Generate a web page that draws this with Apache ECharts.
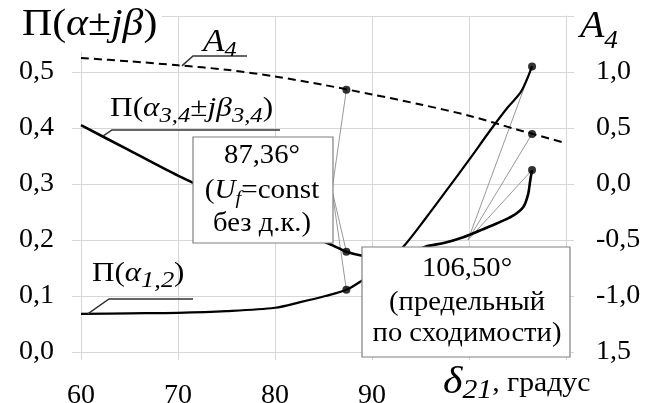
<!DOCTYPE html>
<html><head><meta charset="utf-8">
<script src="https://cdn.jsdelivr.net/npm/echarts@6/dist/echarts.min.js"></script>
<style>html,body{margin:0;padding:0;background:#fff}#c{width:650px;height:403px}</style>
</head><body><div id="c"></div>
<script>
// ---------- data ----------
const xTicks = [60, 70, 80, 90, 100, 110];
const leftTicks = [0, 0.1, 0.2, 0.3, 0.4, 0.5, 0.6];
const rightTicks = [-1.5, -1.0, -0.5, 0.0, 0.5, 1.0, 1.5];

const pi12X = [60, 65, 70, 75, 80, 82.6, 85.2, 87.36, 89, 91, 93.2, 95.5, 97.7, 100, 102.2, 104, 105.3, 106, 106.5];
const pi12Y = [0.068, 0.069, 0.070, 0.073, 0.079, 0.089, 0.100, 0.111, 0.128, 0.152, 0.1875, 0.238, 0.289, 0.343, 0.396, 0.437, 0.463, 0.488, 0.51];

const pi34X = [60, 65, 70, 75, 80, 84, 86, 87.36, 89, 91, 93, 95.5, 97.5, 99.4, 101, 102.9, 104.5, 105.6, 106.1, 106.3, 106.5];
const pi34Y = [0.405, 0.36, 0.315, 0.275, 0.24, 0.205, 0.19, 0.179, 0.172, 0.168, 0.170, 0.188, 0.195, 0.205, 0.216, 0.23, 0.243, 0.259, 0.282, 0.305, 0.325];

const a4X = [60, 65, 70, 75, 80, 85, 90, 95, 100, 105, 110];
const a4Y = [1.125, 1.095, 1.06, 1.02, 0.96, 0.885, 0.80, 0.71, 0.61, 0.485, 0.365];

const markX = [87.36, 106.50];
const markPi12 = [0.111, 0.51];
const markPi34 = [0.179, 0.325];
const markA4 = [0.842, 0.447];

// ---------- chart ----------
const FONT = '"Liberation Serif", "Times New Roman", serif';
const GRID = '#d6d6d6';
const fmt = v => v.toFixed(1).replace('.', ',');
const pairs = (xs, ys) => xs.map((x, i) => [x, ys[i]]);

const chart = echarts.init(document.getElementById('c'));
chart.setOption({
  animation: false,
  backgroundColor: '#fff',
  grid: { left: 81, right: 84, top: 16, bottom: 51, containLabel: false, outerBoundsMode: 'none' },
  xAxis: {
    type: 'value', min: xTicks[0], max: xTicks[xTicks.length - 1], interval: 10,
    axisLine: { show: true, lineStyle: { color: GRID } },
    axisTick: { show: true, length: 8, lineStyle: { color: GRID } },
    splitLine: { show: true, lineStyle: { color: GRID } },
    axisLabel: { formatter: v => (v <= 90 ? String(v) : ''), fontFamily: FONT, fontSize: 28, color: '#000', margin: 30 }
  },
  yAxis: [
    {
      type: 'value', position: 'left', min: leftTicks[0], max: leftTicks[leftTicks.length - 1], interval: 0.1,
      axisLine: { show: true, lineStyle: { color: GRID } },
      axisTick: { show: true, length: 9, lineStyle: { color: GRID } },
      splitLine: { show: true, lineStyle: { color: GRID } },
      axisLabel: { formatter: v => (v > 0.55 ? '' : fmt(v)), fontFamily: FONT, fontSize: 28, color: '#000', margin: 27 }
    },
    {
      type: 'value', position: 'right', min: rightTicks[0], max: rightTicks[rightTicks.length - 1], interval: 0.5,
      axisLine: { show: true, lineStyle: { color: GRID } },
      axisTick: { show: true, length: 8, lineStyle: { color: GRID } },
      splitLine: { show: false },
      axisLabel: {
        formatter: v => (v > 1.4 ? '' : (v < -1.4 ? '1,5' : fmt(Math.abs(v) < 1e-9 ? 0 : v))),
        fontFamily: FONT, fontSize: 28, color: '#000', margin: 30
      }
    }
  ],
  series: [
    { type: 'line', name: 'A4', yAxisIndex: 1, data: pairs(a4X, a4Y), showSymbol: false, smooth: 0.3,
      lineStyle: { color: '#000', width: 2, type: [8, 5] }, z: 3 },
    { type: 'line', name: 'pi34', yAxisIndex: 0, data: pairs(pi34X, pi34Y), showSymbol: false, smooth: 0.3,
      lineStyle: { color: '#000', width: 2.6 }, z: 3 },
    { type: 'line', name: 'pi12', yAxisIndex: 0, data: pairs(pi12X, pi12Y), showSymbol: false, smooth: 0.3,
      lineStyle: { color: '#000', width: 2.2 }, z: 3 },
    { type: 'scatter', yAxisIndex: 0, data: pairs(markX, markPi12).concat(pairs(markX, markPi34)), symbolSize: 8,
      itemStyle: { color: '#000' }, z: 5 },
    { type: 'scatter', yAxisIndex: 1, data: pairs(markX, markA4), symbolSize: 8, itemStyle: { color: '#000' }, z: 5 }
  ]
});

// ---------- annotations ----------
const L = p => chart.convertToPixel({ xAxisIndex: 0, yAxisIndex: 0 }, p);
const R = p => chart.convertToPixel({ xAxisIndex: 0, yAxisIndex: 1 }, p);
const ctx = document.createElement('canvas').getContext('2d');
const fontStr = p => (p.i ? 'italic ' : '') + p.s + 'px ' + FONT;
const els = [];
function runs(pieces, x, base, center, sx) {
  sx = sx || 1;
  let w = 0;
  pieces.forEach(p => { ctx.font = fontStr(p); p.w = ctx.measureText(p.t).width * sx; w += p.w; });
  let cx = center ? x - w / 2 : x;
  pieces.forEach(p => {
    els.push({
      type: 'text', x: cx, y: base + (p.dy || 0) - 0.3375 * p.s, z: 30, scaleX: sx,
      style: { text: p.t, font: fontStr(p), fill: '#000', align: 'left', verticalAlign: 'middle' }
    });
    cx += p.w;
  });
}
const line = (a, b, color, w, z) => els.push({ type: 'line', z: z, shape: { x1: a[0], y1: a[1], x2: b[0], y2: b[1] }, style: { stroke: color, lineWidth: w } });
const poly = (pts, color, w, z) => els.push({ type: 'polyline', z: z, shape: { points: pts }, style: { stroke: color, lineWidth: w, fill: null } });
const rect = (x, y, w, h, z, stroke) => els.push({ type: 'rect', z: z, shape: { x: x, y: y, width: w, height: h }, style: { fill: '#fff', stroke: stroke || null, lineWidth: 1.2 } });

// white patch behind title
rect(0, 0, 162, 52, 20, null);
runs([{ t: 'Π(', s: 38 }, { t: 'α', s: 38, i: 1 }, { t: '±', s: 38 }, { t: 'jβ', s: 38, i: 1 }, { t: ')', s: 38 }], 22, 38, false, 1.1);
// right axis title
runs([{ t: 'A', s: 38, i: 1 }, { t: '4', s: 26, i: 1, dy: 10 }], 580, 40, false, 1.05);
// x axis title
runs([{ t: 'δ', s: 38, i: 1, dy: 3 }, { t: '21', s: 27, i: 1, dy: 7 }, { t: ', градус', s: 27 }], 443, 393, false, 1.1);

// curve labels
const a4s = R([70.4, 1.055]);
poly([a4s, [193, 56], [247, 56]], '#333', 1.5, 10);
runs([{ t: 'A', s: 32, i: 1 }, { t: '4', s: 22, i: 1, dy: 5 }], 203, 53, false, 1.1);

const p34s = L([62.3, 0.386]);
poly([p34s, [112, 130], [280, 130]], '#333', 1.5, 10);
runs([{ t: 'Π(', s: 28 }, { t: 'α', s: 28, i: 1 }, { t: '3,4', s: 22, i: 1, dy: 6 }, { t: '±', s: 28 },
  { t: 'jβ', s: 28, i: 1 }, { t: '3,4', s: 22, i: 1, dy: 6 }, { t: ')', s: 28 }], 110, 118, false, 1.12);

const p12s = L([60.7, 0.068]);
poly([p12s, [109, 299], [193, 299]], '#333', 1.5, 10);
runs([{ t: 'Π(', s: 27 }, { t: 'α', s: 27, i: 1 }, { t: '1,2', s: 23, i: 1, dy: 6 }, { t: ')', s: 27 }], 92, 283, false, 1.15);

// box 1 (87.36°)
const b1 = [332, 190];
line(b1, R([markX[0], markA4[0]]), '#999', 1, 1);
line(b1, L([markX[0], markPi34[0]]), '#999', 1, 1);
line(b1, L([markX[0], markPi12[0]]), '#999', 1, 1);
rect(193, 137, 140, 106, 20, '#808080');
runs([{ t: '87,36°', s: 27 }], 262, 165, true, 1.06);
runs([{ t: '(', s: 27 }, { t: 'U', s: 27, i: 1 }, { t: 'f', s: 19, i: 1, dy: 5 }, { t: '=const', s: 27 }], 262, 200, true, 1.08);
runs([{ t: 'без д.к.)', s: 27 }], 262, 233, true, 1.06);

// box 2 (106.50°)
const b2 = [468, 240];
line(b2, L([markX[1], markPi12[1]]), '#999', 1, 1);
line(b2, R([markX[1], markA4[1]]), '#999', 1, 1);
line(b2, L([markX[1], markPi34[1]]), '#999', 1, 1);
rect(362, 247, 208, 110, 20, '#808080');
runs([{ t: '106,50°', s: 27 }], 467, 278, true, 1.06);
runs([{ t: '(предельный', s: 27 }], 467, 312, true, 1.06);
runs([{ t: 'по сходимости)', s: 27 }], 467, 343, true, 1.06);

chart.setOption({ graphic: { elements: els } });
</script>
</body></html>
